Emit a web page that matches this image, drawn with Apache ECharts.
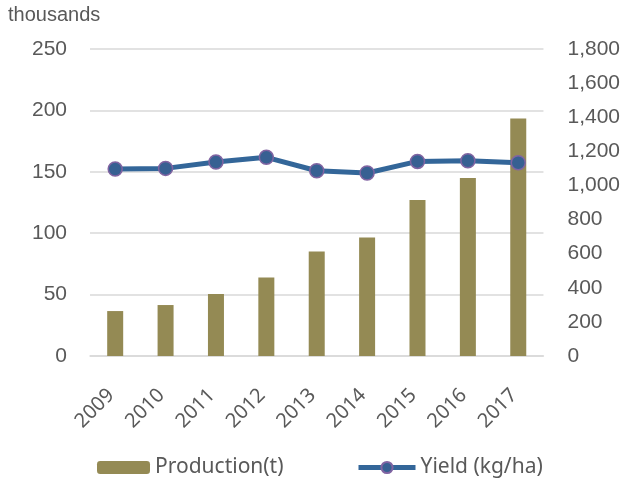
<!DOCTYPE html>
<html><head><meta charset="utf-8">
<script src="https://cdn.jsdelivr.net/npm/echarts@6/dist/echarts.min.js"></script>
<style>html,body{margin:0;padding:0;background:#fff}#c{width:623px;height:479px}</style>
</head><body><div id="c"></div>
<script>
const years = ['2009','2010','2011','2012','2013','2014','2015','2016','2017'];
const production = [36.6, 41.5, 50.5, 64, 85, 96.5, 127, 145, 193.5];
const yieldKgHa = [1096, 1100, 1137, 1165, 1086, 1073, 1141, 1145, 1133];
const leftTicks = {min: 0, max: 250, interval: 50};
const rightTicks = {min: 0, max: 1800, interval: 200};

const chart = echarts.init(document.getElementById('c'));
chart.setOption({
  animation: false,
  grid: {left: 90, right: 78, top: 49, bottom: 123, containLabel: false},
  graphic: [{type: 'text', left: 8, top: 5, style: {text: 'thousands', font: '20px "Liberation Sans"', fill: '#595959'}}],
  legend: [
    {data: ['Production(t)'], left: 92, top: 452, padding: 5, itemWidth: 53, itemHeight: 13, itemGap: 5,
     textStyle: {fontFamily: 'Noto Sans', fontSize: 21, color: '#595959'}},
    {data: ['Yield (kg/ha)'], left: 351, top: 452, padding: 5, itemWidth: 57, itemHeight: 14,
     lineStyle: {width: 5, color: '#336699'},
     textStyle: {fontFamily: 'Noto Sans', fontSize: 21, color: '#595959'}}
  ],
  xAxis: {
    type: 'category', data: years,
    axisLine: {lineStyle: {color: '#d9d9d9', width: 1.5}},
    axisTick: {show: false},
    axisLabel: {rotate: 45, color: '#595959', fontFamily: 'Noto Sans', fontSize: 20, margin: 32, padding: [0, 6, 0, 0]}
  },
  yAxis: [
    {type: 'value', ...leftTicks,
     axisLine: {show: false}, axisTick: {show: false},
     splitLine: {lineStyle: {color: '#d9d9d9', width: 1.5}},
     axisLabel: {color: '#595959', fontFamily: 'Liberation Sans', fontSize: 21, margin: 23}},
    {type: 'value', ...rightTicks,
     axisLine: {show: false}, axisTick: {show: false}, splitLine: {show: false},
     axisLabel: {color: '#595959', fontFamily: 'Liberation Sans', fontSize: 21, margin: 24,
       formatter: v => v.toLocaleString('en-US')}}
  ],
  series: [
    {name: 'Production(t)', type: 'bar', data: production, yAxisIndex: 0, barWidth: 16,
     itemStyle: {color: '#948a54'}},
    {name: 'Yield (kg/ha)', type: 'line', data: yieldKgHa, yAxisIndex: 1,
     symbol: 'circle', symbolSize: 14,
     lineStyle: {color: '#336699', width: 5},
     itemStyle: {color: '#376092', borderColor: '#8064a2', borderWidth: 1.5}}
  ]
});
</script></body></html>
